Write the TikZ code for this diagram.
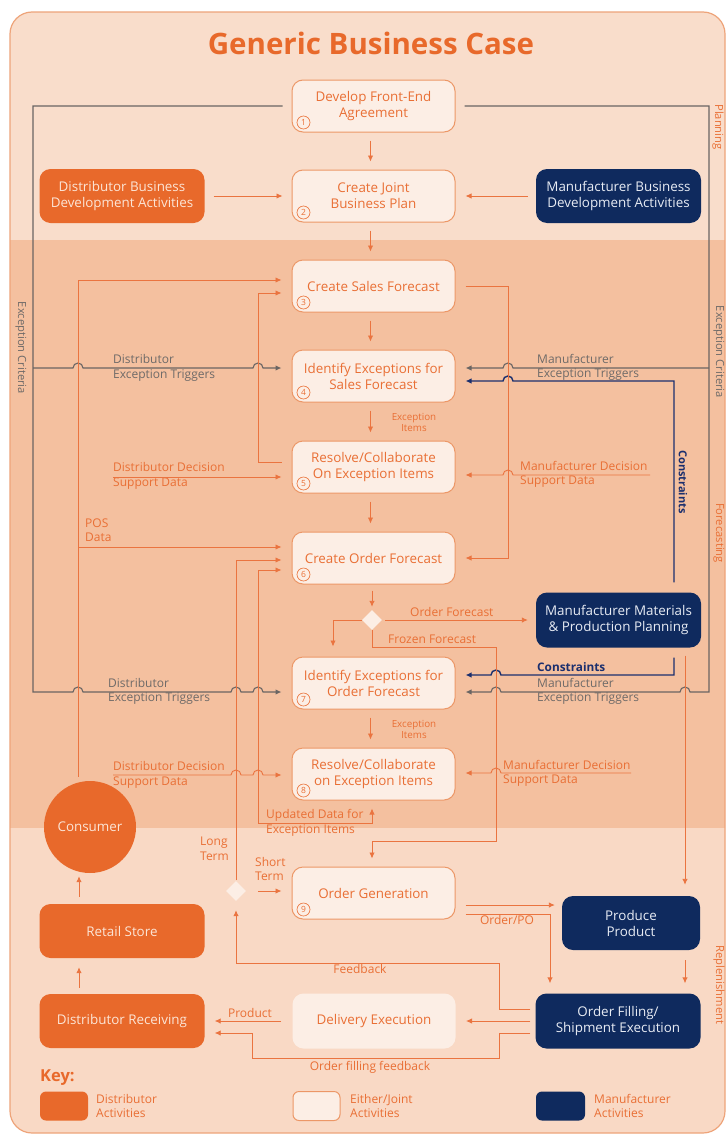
\documentclass[tikz,border=0pt]{standalone}
\usepackage{fontspec}
\setmainfont{Open Sans}
\usetikzlibrary{arrows.meta,shapes.geometric,calc}
\definecolor{bgA}{HTML}{F9DDCB}
\definecolor{bgB}{HTML}{F4C09F}
\definecolor{bgC}{HTML}{F9D9C5}
\definecolor{frameC}{HTML}{EEA47A}
\definecolor{orgBox}{HTML}{E8692B}
\definecolor{navyBox}{HTML}{0F2A5E}
\definecolor{jointFill}{HTML}{FCEEE5}
\definecolor{jointDraw}{HTML}{EC9767}
\definecolor{orgTxt}{HTML}{E96F35}
\definecolor{orgLine}{HTML}{EA7440}
\definecolor{greyLine}{HTML}{6A6563}
\definecolor{greyTxt}{HTML}{6E6A68}
\definecolor{navyLine}{HTML}{1B2F6E}
\definecolor{distTxt}{HTML}{FCE5D6}
\definecolor{manuTxt}{HTML}{E8ECF4}
\begin{document}
\begin{tikzpicture}[x=1pt,y=1pt,
  box/.style={rounded corners=11pt, minimum width=163pt, minimum height=52pt, align=center, inner sep=0pt, font=\fontsize{13.4}{16}\selectfont},
  joint/.style={box, draw=jointDraw, line width=1pt, fill=jointFill, text=orgTxt},
  dist/.style={box, fill=orgBox, text=distTxt, minimum width=165pt, minimum height=54pt},
  manu/.style={box, fill=navyBox, text=manuTxt, minimum width=165pt, minimum height=54pt},
  numc/.style={circle, draw=orgTxt, line width=0.6pt, inner sep=0pt, minimum size=13pt, text=orgTxt, font=\fontsize{8.5}{8.5}\selectfont},
  ol/.style={draw=orgLine, line width=0.9pt},
  gl/.style={draw=greyLine, line width=1.1pt},
  nl/.style={draw=navyLine, line width=1.4pt},
  tip/.style={-{Latex[length=6pt,width=5.5pt]}},
  both/.style={{Latex[length=6pt,width=5.5pt]}-{Latex[length=6pt,width=5.5pt]}},
  lbl/.style={anchor=west, align=left, inner sep=0pt, font=\fontsize{12}{14.5}\selectfont},
  olbl/.style={lbl, text=orgTxt},
  glbl/.style={lbl, text=greyTxt},
  small/.style={align=center, inner sep=0pt, text=orgTxt, font=\fontsize{9.8}{11.5}\selectfont},
  side/.style={rotate=-90, inner sep=0pt, font=\fontsize{11.2}{13}\selectfont},
  dmd/.style={diamond, fill=jointFill, inner sep=0pt, minimum width=20pt, minimum height=20pt}
]
\useasboundingbox (0,0) rectangle (726,-1135);
\fill[white] (0,0) rectangle (726,-1135);
\begin{scope}
\clip[rounded corners=22pt] (10,-12) rectangle (725,-1133);
\fill[bgA] (10,-12) rectangle (726,-240);
\fill[bgB] (10,-240) rectangle (726,-828);
\fill[bgC] (10,-828) rectangle (726,-1135);
\end{scope}
\draw[frameC, line width=1.2pt, rounded corners=22pt] (10,-12) rectangle (725,-1133);

% title
\node[text=orgBox, font=\fontsize{29.5}{32}\selectfont\bfseries] (title) at (371,-43) {Generic Business Case};

% side labels
\node[side, text=orgTxt] (sPlan) at (718,-127) {Planning};
\node[side, text=greyTxt] (sExR) at (719,-352) {Exception Criteria};
\node[side, text=orgTxt] (sFor) at (719,-533) {Forecasting};
\node[side, text=orgTxt] (sRep) at (719,-985) {Replenishment};
\node[side, text=greyTxt] (sExL) at (21,-348) {Exception Criteria};

% main joint boxes
\node[joint] (n1) at (373.5,-106) {Develop Front-End\\Agreement};
\node[joint] (n2) at (373.5,-196) {Create Joint\\Business Plan};
\node[joint] (n3) at (373.5,-286) {Create Sales Forecast};
\node[joint] (n4) at (373.5,-376) {Identify Exceptions for\\Sales Forecast};
\node[joint] (n5) at (373.5,-467) {Resolve/Collaborate\\On Exception Items};
\node[joint] (n6) at (373.5,-558) {Create Order Forecast};
\node[joint] (n7) at (373.5,-683) {Identify Exceptions for\\Order Forecast};
\node[joint] (n8) at (373.5,-774) {Resolve/Collaborate\\on Exception Items};
\node[joint] (n9) at (373.5,-893) {Order Generation};
\node[joint, draw=none, minimum height=55pt] (del) at (374,-1021) {Delivery Execution};
\foreach \i in {1,...,9}{
  \node[numc] (c\i) at ([xshift=12pt,yshift=10pt]n\i.south west) {\i};
}

% side boxes
\node[dist] (dbd) at (122,-196) {Distributor Business\\Development Activities};
\node[manu] (mbd) at (618.5,-196) {Manufacturer Business\\Development Activities};
\node[manu, minimum height=55pt] (mmp) at (618.5,-620) {Manufacturer Materials\\\& Production Planning};
\node[manu, minimum width=138pt] (pp) at (631,-923) {Produce\\Product};
\node[manu, minimum height=55pt] (ofs) at (618,-1021) {Order Filling/\\Shipment Execution};
\node[circle, fill=orgBox, minimum size=92pt, inner sep=0pt, text=distTxt, font=\fontsize{13.4}{16}\selectfont] (cons) at (90,-827) {Consumer};
\node[dist] (rs) at (122,-931) {Retail Store};
\node[dist] (dr) at (122,-1021) {Distributor Receiving};
\node[dmd] (dia1) at (372,-620) {};
\node[dmd] (dia2) at (236,-891) {};

% key
\node[anchor=west, inner sep=0pt, text=orgBox, font=\fontsize{16.5}{20}\selectfont\bfseries] (key) at (40,-1078) {Key:};
\node[fill=orgBox, rounded corners=6pt, minimum width=48pt, minimum height=29pt, inner sep=0pt] (k1) at (64,-1106) {};
\node[olbl] (k1t) at (96,-1106) {Distributor\\Activities};
\node[fill=jointFill, draw=jointDraw, line width=1pt, rounded corners=6pt, minimum width=47pt, minimum height=29pt, inner sep=0pt] (k2) at (316.5,-1106) {};
\node[olbl] (k2t) at (350,-1106) {Either/Joint\\Activities};
\node[fill=navyBox, rounded corners=6pt, minimum width=49pt, minimum height=29pt, inner sep=0pt] (k3) at (560.5,-1106) {};
\node[olbl] (k3t) at (594,-1106) {Manufacturer\\Activities};

% labels
\node[glbl] (lDT1) at (113,-368) {Distributor\\Exception Triggers};
\node[olbl] (lDD1) at (113,-476) {Distributor Decision\\Support Data};
\node[olbl] (lPOS) at (85,-530) {POS\\Data};
\node[glbl] (lDT2) at (108,-691.5) {Distributor\\Exception Triggers};
\node[olbl] (lDD2) at (113,-775) {Distributor Decision\\Support Data};
\node[small] (lEI1) at (414,-422.5) {Exception\\Items};
\node[small] (lEI2) at (414,-729.5) {Exception\\Items};
\node[olbl] (lOF) at (410,-612) {Order Forecast};
\node[olbl] (lFF) at (388,-639) {Frozen Forecast};
\node[lbl, text=navyLine, font=\fontsize{11.8}{14}\selectfont\bfseries] (lC2) at (537,-667) {Constraints};
\node[glbl] (lMT1) at (537,-367.5) {Manufacturer\\Exception Triggers};
\node[glbl] (lMT2) at (537,-691.5) {Manufacturer\\Exception Triggers};
\node[olbl] (lMD1) at (520,-474.5) {Manufacturer Decision\\Support Data};
\node[olbl] (lMD2) at (503,-773.5) {Manufacturer Decision\\Support Data};
\node[side, text=navyLine, font=\fontsize{11}{13}\selectfont\bfseries] (lC1) at (683,-482) {Constraints};
\node[olbl] (lUD) at (266,-823) {Updated Data for\\Exception Items};
\node[olbl] (lLT) at (200,-849) {Long\\Term};
\node[olbl] (lST) at (255,-869) {Short\\Term};
\node[olbl, anchor=center] (lPO) at (507,-920) {Order/PO};
\node[olbl, anchor=center] (lFB) at (360,-969) {Feedback};
\node[olbl, anchor=center] (lPr) at (250,-1013) {Product};
\node[olbl, anchor=center] (lOFF) at (370,-1067) {Order filling feedback};

% coordinates
\coordinate (gl1) at (33,-106);
\coordinate (gl2) at (33,-692);
\coordinate (gl3) at (33,-368);
\coordinate (gr1) at (709,-106);
\coordinate (gr2) at (709,-692);
\coordinate (gr3) at (709,-368);
\coordinate (md1) at (650,-475);
\coordinate (md2) at (631,-773);
\coordinate (dd1) at (113,-477);
\coordinate (dd2) at (113,-775);
\coordinate (pos0) at ([xshift=-12pt]cons.north);
\coordinate (pos1) at (78,-547);

% vertical chain
\foreach \a/\b in {n1/n2,n2/n3,n3/n4,n4/n5,n5/n6,n7/n8}{
  \draw[ol, tip, shorten <=8pt, shorten >=8pt] ([xshift=-3pt]\a.south) -- ([xshift=-3pt]\b.north);
}
\draw[ol, tip, shorten <=9pt, shorten >=9pt] (dbd.east) -- (n2.west);
\draw[ol, tip, shorten <=8pt, shorten >=10pt] (mbd.west) -- (n2.east);

% grey exception triggers, left
\draw[gl, tip, shorten <=9pt, shorten >=10pt] (n1.west) -- (gl1) -- (gl2) -- (73,-692) arc[start angle=180,end angle=0,radius=5] -- (231,-692) arc[start angle=180,end angle=0,radius=5] -- (253,-692) arc[start angle=180,end angle=0,radius=5] -- ([yshift=-9pt]n7.west);
\draw[gl, tip, shorten >=10pt] (gl3) -- (73,-368) arc[start angle=180,end angle=0,radius=5] -- (253,-368) arc[start angle=180,end angle=0,radius=5] -- ([yshift=8pt]n4.west);
% grey exception triggers, right
\draw[gl, tip, shorten <=9pt, shorten >=10pt] (n1.east) -- (gr1) -- (gr2) -- (690,-692) arc[start angle=0,end angle=180,radius=5] -- (501,-692) arc[start angle=0,end angle=180,radius=5] -- ([yshift=-9pt]n7.east);
\draw[gl, tip, shorten >=10pt] (gr3) -- (513,-368) arc[start angle=0,end angle=180,radius=5] -- ([yshift=8pt]n4.east);

% navy constraints
\draw[nl, tip, shorten <=10pt, shorten >=10pt] ([xshift=55.5pt]mmp.north) -- (674,-381) -- (513,-381) arc[start angle=0,end angle=180,radius=5] -- ([yshift=-5pt]n4.east);
\draw[nl, tip, shorten <=10pt, shorten >=10pt] ([xshift=55.5pt]mmp.south) -- (674,-675) -- (501,-675) arc[start angle=0,end angle=180,radius=5] -- ([yshift=8pt]n7.east);

% right orange loop 3 -> 6
\draw[ol, tip, shorten <=10pt, shorten >=10pt] (n3.east) -- (508,-286) -- (508,-558) -- (n6.east);
% manufacturer decision support
\draw[ol, tip, shorten >=10pt] (md1) -- (513,-475) arc[start angle=0,end angle=180,radius=5] -- ([yshift=-8pt]n5.east);
\draw[ol, tip, shorten >=10pt] (md2) -- (501,-773) arc[start angle=0,end angle=180,radius=5] -- ([yshift=1pt]n8.east);
% distributor decision support
\draw[ol, tip, shorten >=10pt] (dd1) -- ([yshift=-10pt]n5.west);
\draw[ol, tip, shorten >=10pt] (dd2) -- (231,-775) arc[start angle=180,end angle=0,radius=5] -- (253,-775) arc[start angle=180,end angle=0,radius=5] -- ([yshift=-1pt]n8.west);
% POS data
\draw[ol, tip, shorten <=4pt, shorten >=10pt] (pos0) -- (78,-280) -- ([yshift=6pt]n3.west);
\draw[ol, tip, shorten >=10pt] (pos1) -- ([yshift=11pt]n6.west);
% loop 5 -> 3
\draw[ol, tip, shorten <=10pt, shorten >=10pt] ([yshift=5pt]n5.west) -- (258,-462) -- (258,-293) -- ([yshift=-7pt]n3.west);
% long term
\draw[ol, tip, shorten <=1pt, shorten >=10pt] (dia2.north) -- (236,-560) -- ([yshift=-2pt]n6.west);
% updated data
\draw[ol, both, shorten <=10pt, shorten >=8pt] ([yshift=-12pt]n6.west) -- (258,-570) -- (258,-823) -- (372,-823) -- ([xshift=-1.5pt]n8.south);

% diamond 1
\draw[ol, tip, shorten <=6pt, shorten >=3pt] ([xshift=-1.5pt]n6.south) -- (dia1.north);
\draw[ol, tip, shorten <=3pt, shorten >=8pt] (dia1.east) -- (mmp.west);
\draw[ol, tip] (dia1.west) -- (333,-620) -- ([xshift=-40.5pt,yshift=10pt]n7.north);
\draw[ol, tip, shorten >=8pt] (dia1.south) -- (372,-647) -- (496,-647) -- (496,-841) -- (372,-841) -- ([xshift=-1.5pt]n9.north);

% replenishment
\draw[ol, tip, shorten <=10pt, shorten >=7pt] ([yshift=-12pt]n9.east) -- ([yshift=18pt]pp.west);
\draw[ol, tip, shorten <=10pt, shorten >=10pt] ([yshift=-21pt]n9.east) -- (550,-914) -- ([xshift=-68pt]ofs.north);
\draw[ol, tip, shorten <=8pt, shorten >=11pt] ([xshift=66.5pt]mmp.south) -- ([xshift=54pt]pp.north);
\draw[ol, tip, shorten <=10pt, shorten >=10pt] ([xshift=54pt]pp.south) -- ([xshift=67pt]ofs.north);
\draw[ol, tip, shorten <=5pt, shorten >=10pt] (ofs.west) -- (del.east);
\draw[ol, tip, shorten <=5pt, shorten >=9pt] ([yshift=12pt]ofs.west) -- (499,-1009) -- (499,-963) -- (236,-963) -- (dia2.south);
\draw[ol, tip, shorten <=5pt, shorten >=10pt] ([yshift=-12pt]ofs.west) -- (499,-1033) -- (499,-1058) -- (252,-1058) -- (252,-1033) -- ([yshift=-12pt]dr.east);
\draw[ol, tip, shorten <=11pt, shorten >=10pt] (del.west) -- (dr.east);
\draw[ol, tip, shorten <=12pt, shorten >=0pt] (dia2.east) -- ([xshift=-10pt]dia2.east -| n9.west);
\draw[ol, tip, shorten <=6pt, shorten >=9pt] ([xshift=-43pt]dr.north) -- ([xshift=-43pt]rs.south);
\draw[ol, tip, shorten <=7pt, shorten >=3pt] ([xshift=-43pt]rs.north) -- ([xshift=-43pt]rs.north |- cons.south);
\end{tikzpicture}
\end{document}
